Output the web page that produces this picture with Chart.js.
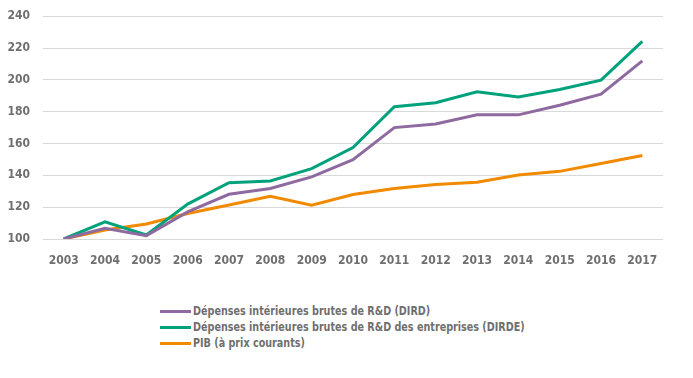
<!DOCTYPE html>
<html>
<head>
<meta charset="utf-8">
<script src="https://cdn.jsdelivr.net/npm/chart.js@4"></script>
<style>
  html, body { margin: 0; padding: 0; background: #fff; overflow: hidden; }
  #wrap { position: relative; width: 693px; height: 378px; overflow: hidden; }
  #chart { position: absolute; left: 0; top: -4px; }
  #legend { position: absolute; left: 160px; top: 303px; font-family: "DejaVu Sans Condensed", "DejaVu Sans", sans-serif; font-weight: bold; font-size: 12px; color: #6f6f6f; }
  .item { display: flex; align-items: center; height: 16px; }
  .swatch { width: 31px; height: 3px; margin-right: 2px; }
  .txt { display: inline-block; transform: scaleX(0.89); transform-origin: left center; white-space: nowrap; }
</style>
</head>
<body>
<div id="wrap">
  <canvas id="chart" width="693" height="293"></canvas>
  <div id="legend"></div>
</div>
<script>
// Données (base 100 en 2003)
const annees = ['2003', '2004', '2005', '2006', '2007', '2008', '2009', '2010', '2011', '2012', '2013', '2014', '2015', '2016', '2017'];
const dird = [100, 106.7, 102.1, 117, 128.1, 131.7, 139, 149.8, 170, 172.3, 178, 178, 184, 191, 211.9];
const dirde = [100, 110.8, 102.5, 121.9, 135.4, 136.5, 144.2, 157.5, 183.1, 185.6, 192.5, 189.2, 193.9, 199.8, 224.2];
const pib = [100, 105.6, 109.4, 116, 121.4, 126.9, 121.3, 128, 131.7, 134.2, 135.6, 140.2, 142.5, 147.5, 152.5];
const yTicks = [100, 120, 140, 160, 180, 200, 220, 240];

const series = [
  { label: 'Dépenses intérieures brutes de R&D (DIRD)', data: dird, color: '#8f6aa0' },
  { label: 'Dépenses intérieures brutes de R&D des entreprises (DIRDE)', data: dirde, color: '#00a27c' },
  { label: 'PIB (à prix courants)', data: pib, color: '#f28a00' }
];

const tickFont = { family: '"DejaVu Sans Condensed", "DejaVu Sans", sans-serif', weight: 'bold', size: 12 };

new Chart(document.getElementById('chart'), {
  type: 'line',
  data: {
    labels: annees,
    datasets: series.map(s => ({
      label: s.label,
      data: s.data,
      borderColor: s.color,
      backgroundColor: s.color,
      borderWidth: 3,
      pointRadius: 0,
      tension: 0,
      fill: false
    }))
  },
  options: {
    responsive: false,
    animation: false,
    layout: { padding: { top: 4, right: 30, left: 0, bottom: 0 } },
    plugins: { legend: { display: false }, tooltip: { enabled: false } },
    scales: {
      x: {
        offset: true,
        grid: { display: false },
        border: { display: false },
        ticks: { color: '#6f6f6f', font: tickFont, padding: 7, maxRotation: 0 },
        afterFit: (scale) => { scale.height = 50; }
      },
      y: {
        min: 100,
        max: 240,
        afterBuildTicks: (scale) => { scale.ticks = yTicks.map(v => ({ value: v })); },
        grid: { color: '#d9d9d9', lineWidth: 1, drawTicks: false },
        border: { display: false },
        ticks: { color: '#6f6f6f', font: tickFont, padding: 13 },
        afterFit: (scale) => { scale.width = 43; }
      }
    }
  }
});

// Légende verticale
const legend = document.getElementById('legend');
series.forEach(s => {
  const item = document.createElement('div');
  item.className = 'item';
  item.innerHTML = `<span class="swatch" style="background:${s.color}"></span><span class="txt">${s.label}</span>`;
  legend.appendChild(item);
});
</script>
</body>
</html>
